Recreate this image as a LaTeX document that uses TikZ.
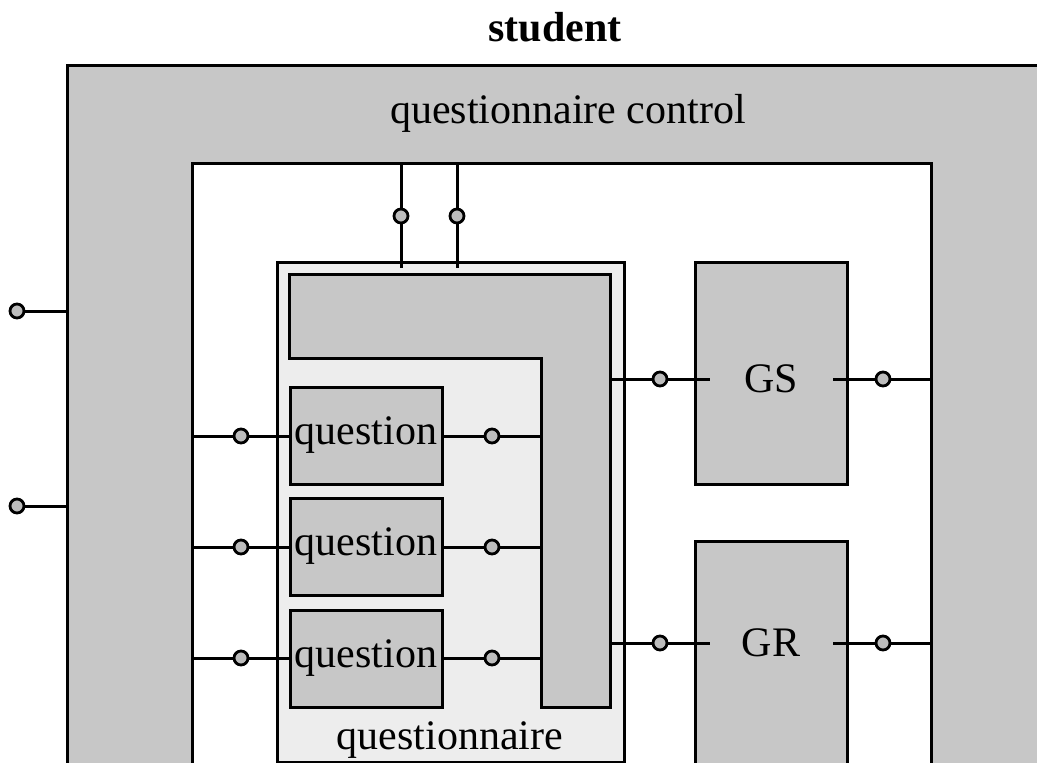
\documentclass[tikz,border=0pt]{standalone}
\usepackage{fontspec}
\setmainfont{Liberation Serif}
\definecolor{darkfill}{gray}{0.78}
\definecolor{lightfill}{gray}{0.93}
\definecolor{portfill}{gray}{0.74}
\begin{document}
\begin{tikzpicture}[x=1pt,y=-1pt,
  outline/.style={draw=black,line width=3pt},
  box/.style={outline,fill=darkfill,inner sep=0pt,outer sep=0pt,anchor=north west},
  hole/.style={box,fill=white},
  port/.style={circle,draw=black,line width=2.8pt,fill=portfill,minimum size=14pt,inner sep=0pt},
  wire/.style={line width=3pt},
  lbl/.style={font=\fontsize{42}{48}\selectfont,inner sep=0pt}]
\useasboundingbox (0,0) rectangle (1037,763);
\begin{scope}
\clip (0,0) rectangle (1037,763);
% control frame and its open interior
\node[box,minimum width=1000pt,minimum height=760pt] (ctrl) at (67,65) {};
\node[hole,minimum width=739pt,minimum height=700pt] (inner) at (192,163) {};
% questionnaire component
\node[box,fill=lightfill,minimum width=347pt,minimum height=500pt] (qn) at (277,262) {};
\draw[outline,fill=darkfill] (289,274) coordinate (bus) -- (610,274) -- (610,707) -- (541,707)
  -- (541,358) -- (289,358) -- cycle;
% question boxes
\node[box,minimum width=152pt,minimum height=97pt] (q1) at (290,387) {};
\node[box,minimum width=152pt,minimum height=97pt] (q2) at (290,498) {};
\node[box,minimum width=152pt,minimum height=97pt] (q3) at (290,610) {};
% generators
\node[box,minimum width=152pt,minimum height=222pt] (gs) at (695,262) {};
\node[box,minimum width=152pt,minimum height=260pt] (gr) at (695,541) {};
\end{scope}

% outer interface ports
\node[port] (e1) at (17,311) {};
\node[port] (e2) at (17,506) {};
\draw[wire] (e1) -- (e1 -| ctrl.west);
\draw[wire] (e2) -- (e2 -| ctrl.west);

% ports from control to questionnaire top
\coordinate (t1) at (401,163);
\coordinate (t2) at (457,163);
\coordinate (b1) at (401,268);
\coordinate (b2) at (457,268);
\node[port] (tp1) at (401,216) {};
\node[port] (tp2) at (457,216) {};
\draw[wire] (t1) -- (tp1) -- (b1);
\draw[wire] (t2) -- (tp2) -- (b2);

% question ports
\foreach \q/\y in {q1/436,q2/547,q3/658}{
  \coordinate (\q l) at (192,\y);
  \coordinate (\q r) at (541,\y);
  \node[port] (\q pl) at (241,\y) {};
  \node[port] (\q pr) at (492,\y) {};
  \draw[wire] (\q l) -- (\q pl) -- (\q.west |- \q l);
  \draw[wire] (\q.east |- \q r) -- (\q pr) -- (\q r);
}

% generator ports
\foreach \g/\y in {gs/379,gr/643}{
  \coordinate (\g a) at (610,\y);
  \coordinate (\g b) at (710,\y);
  \coordinate (\g c) at (833,\y);
  \coordinate (\g d) at (931,\y);
  \node[port] (\g pa) at (660,\y) {};
  \node[port] (\g pb) at (883,\y) {};
  \draw[wire] (\g a) -- (\g pa) -- (\g b);
  \draw[wire] (\g c) -- (\g pb) -- (\g d);
}

% labels
\node[lbl,font=\fontsize{42}{48}\selectfont\bfseries] (title) at (555,27) {student};
\node[lbl] (ctrllbl) at (568,113) {questionnaire control};
\node[lbl] (qnlbl) at (450,740) {questionnaire};
\node[lbl] (q1lbl) at (q1.center) {question};
\node[lbl] (q2lbl) at (q2.center) {question};
\node[lbl] (q3lbl) at (q3.center) {question};
\node[lbl] (gslbl) at (771,379) {GS};
\node[lbl] (grlbl) at (771,643) {GR};
\end{tikzpicture}
\end{document}
